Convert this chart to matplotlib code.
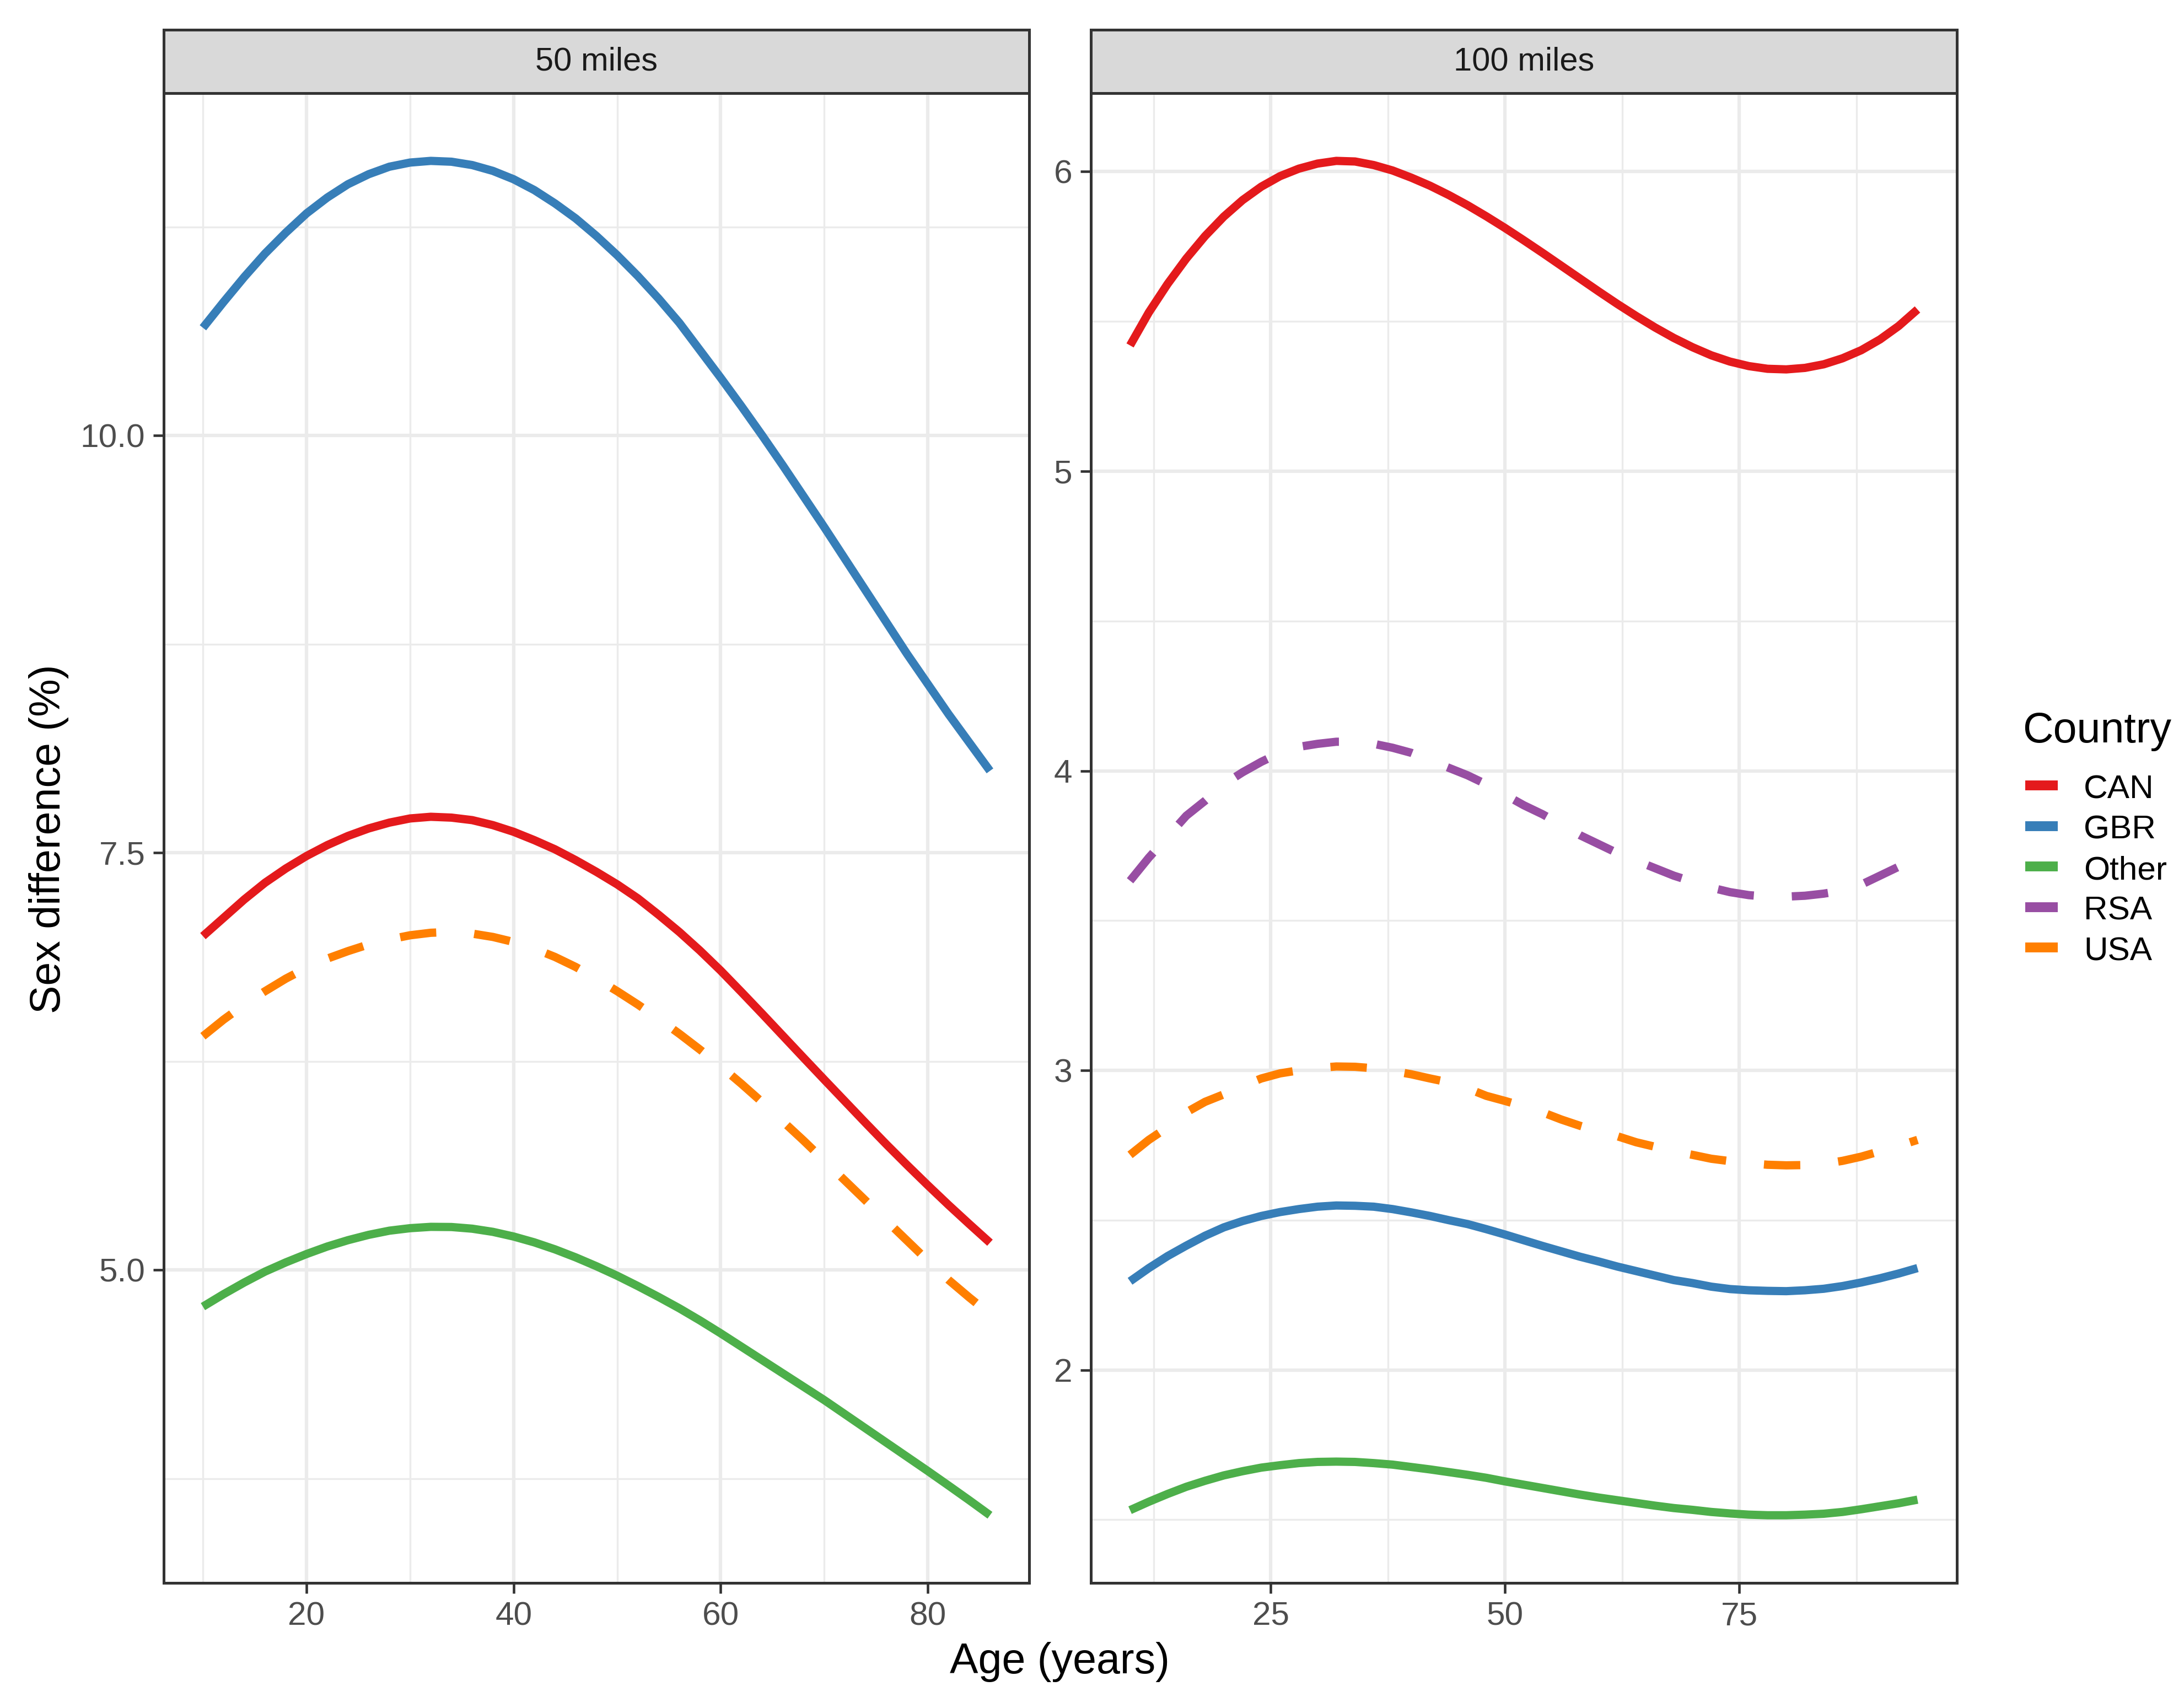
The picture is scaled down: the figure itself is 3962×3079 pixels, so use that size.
import numpy as np
import matplotlib
matplotlib.use('Agg')
import matplotlib.pyplot as plt
from matplotlib.lines import Line2D

plt.rcParams['font.family'] = ['Liberation Sans', 'DejaVu Sans']

# data (every 2 years)
countries = ['CAN', 'GBR', 'Other', 'RSA', 'USA']
colors = {'CAN': '#E41A1C', 'GBR': '#377EB8', 'Other': '#4DAF4A', 'RSA': '#984EA3', 'USA': '#FF7F00'}
dashed = ['RSA', 'USA']

age_50 = list(range(10, 87, 2))
gbr_50 = [10.645, 10.80, 10.95, 11.09, 11.215, 11.33, 11.425, 11.505, 11.565, 11.61,
          11.635, 11.645, 11.64, 11.62, 11.585, 11.535, 11.47, 11.39, 11.30, 11.195,
          11.08, 10.955, 10.82, 10.675, 10.51, 10.345, 10.175, 10.00, 9.82, 9.635,
          9.45, 9.26, 9.07, 8.88, 8.69, 8.51, 8.33, 8.16, 7.99]
can_50 = [7.00, 7.11, 7.22, 7.32, 7.405, 7.48, 7.545, 7.60, 7.645, 7.68,
          7.705, 7.715, 7.71, 7.695, 7.665, 7.625, 7.575, 7.52, 7.455, 7.385,
          7.31, 7.226, 7.128, 7.025, 6.913, 6.793, 6.665, 6.535, 6.403, 6.271,
          6.14, 6.01, 5.88, 5.752, 5.628, 5.507, 5.389, 5.275, 5.163]
usa_50 = [6.40, 6.50, 6.59, 6.67, 6.745, 6.81, 6.865, 6.91, 6.95, 6.98,
          7.005, 7.02, 7.025, 7.015, 6.995, 6.965, 6.925, 6.875, 6.815, 6.745,
          6.67, 6.59, 6.505, 6.415, 6.32, 6.22, 6.115, 6.005, 5.89, 5.775,
          5.655, 5.535, 5.415, 5.295, 5.175, 5.055, 4.94, 4.835, 4.735]
oth_50 = [4.78, 4.855, 4.925, 4.99, 5.045, 5.095, 5.14, 5.178, 5.21, 5.235,
          5.25, 5.258, 5.257, 5.247, 5.228, 5.20, 5.165, 5.123, 5.075, 5.022,
          4.965, 4.903, 4.838, 4.77, 4.697, 4.62, 4.54, 4.46, 4.38, 4.30,
          4.22, 4.135, 4.05, 3.965, 3.88, 3.795, 3.708, 3.62, 3.53]

age_100 = list(range(10, 95, 2))
can_100 = [5.42, 5.53, 5.625, 5.71, 5.785, 5.85, 5.905, 5.95, 5.985, 6.01,
           6.027, 6.036, 6.034, 6.022, 6.004, 5.98, 5.953, 5.922, 5.888, 5.851,
           5.812, 5.771, 5.729, 5.686, 5.643, 5.60, 5.558, 5.518, 5.48, 5.445,
           5.414, 5.387, 5.366, 5.351, 5.342, 5.34, 5.345, 5.357, 5.377, 5.404,
           5.44, 5.485, 5.54]
rsa_100 = [3.633, 3.71, 3.78, 3.85, 3.90, 3.955, 3.995, 4.03, 4.06, 4.08,
           4.09, 4.097, 4.097, 4.09, 4.077, 4.06, 4.035, 4.01, 3.985, 3.955,
           3.92, 3.885, 3.855, 3.82, 3.785, 3.755, 3.725, 3.70, 3.675, 3.65,
           3.63, 3.61, 3.595, 3.585, 3.58, 3.58, 3.583, 3.59, 3.60, 3.62,
           3.65, 3.68, 3.725]
usa_100 = [2.718, 2.768, 2.81, 2.86, 2.895, 2.92, 2.948, 2.973, 2.99, 3.00,
           3.008, 3.013, 3.012, 3.007, 2.998, 2.987, 2.973, 2.96, 2.94, 2.915,
           2.898, 2.88, 2.86, 2.836, 2.815, 2.797, 2.78, 2.76, 2.745, 2.73,
           2.718, 2.705, 2.697, 2.69, 2.685, 2.683, 2.684, 2.688, 2.698, 2.712,
           2.73, 2.748, 2.768]
gbr_100 = [2.296, 2.34, 2.38, 2.415, 2.448, 2.476, 2.497, 2.514, 2.527, 2.537,
           2.545, 2.549, 2.548, 2.545, 2.537, 2.526, 2.514, 2.50, 2.487, 2.47,
           2.452, 2.433, 2.414, 2.396, 2.378, 2.362, 2.345, 2.33, 2.315, 2.30,
           2.29, 2.278, 2.27, 2.266, 2.264, 2.263, 2.266, 2.271, 2.28, 2.292,
           2.306, 2.322, 2.34]
oth_100 = [1.532, 1.56, 1.586, 1.61, 1.63, 1.648, 1.662, 1.674, 1.682, 1.689,
           1.693, 1.694, 1.693, 1.689, 1.684, 1.676, 1.668, 1.659, 1.65, 1.64,
           1.628, 1.617, 1.606, 1.595, 1.584, 1.574, 1.565, 1.556, 1.547, 1.539,
           1.533, 1.526, 1.521, 1.517, 1.515, 1.515, 1.517, 1.52, 1.526, 1.535,
           1.545, 1.555, 1.567]

panels = [
    ('50 miles', age_50, {'CAN': can_50, 'GBR': gbr_50, 'Other': oth_50, 'USA': usa_50},
     [20, 40, 60, 80], [10, 30, 50, 70], [5.0, 7.5, 10.0], [3.75, 6.25, 8.75, 11.25], '%.1f'),
    ('100 miles', age_100, {'CAN': can_100, 'GBR': gbr_100, 'Other': oth_100, 'RSA': rsa_100, 'USA': usa_100},
     [25, 50, 75], [12.5, 37.5, 62.5, 87.5], [2, 3, 4, 5, 6], [1.5, 2.5, 3.5, 4.5, 5.5], '%d'),
]

W, H = 3962, 3079
fig = plt.figure(figsize=(W / 300, H / 300), dpi=300)

grey20 = '#333333'
lw = 3.6
dash = (0, (4.4, 4.6))
bot, top, strip_top = 0.0672, 0.9451, 0.9824
lefts = [(0.0749, 0.4713), (0.4994, 0.8960)]

for (title, ages, series, xmaj, xmin, ymaj, ymin, fmt), (x0, x1) in zip(panels, lefts):
    ax = fig.add_axes([x0, bot, x1 - x0, top - bot])
    allv = np.concatenate([np.asarray(v) for v in series.values()])
    lo, hi = allv.min(), allv.max()
    ax.set_ylim(lo - 0.05 * (hi - lo), hi + 0.05 * (hi - lo))
    ax.set_xlim(ages[0] - 0.05 * (ages[-1] - ages[0]), ages[-1] + 0.05 * (ages[-1] - ages[0]))
    for c in countries:
        if c not in series:
            continue
        ax.plot(ages, series[c], color=colors[c], lw=lw,
                linestyle=dash if c in dashed else '-',
                solid_capstyle='butt', dash_capstyle='butt',
                solid_joinstyle='round', zorder=3)
    ax.set_xticks(xmaj)
    ax.set_xticks(xmin, minor=True)
    ax.set_yticks(ymaj)
    ax.set_yticks(ymin, minor=True)
    ax.set_yticklabels([fmt % v for v in ymaj])
    ax.grid(which='major', color='#EBEBEB', lw=1.5, zorder=0)
    ax.grid(which='minor', color='#EBEBEB', lw=0.8, zorder=0)
    ax.set_axisbelow(True)
    ax.tick_params(which='major', length=4.5, width=1.1, color=grey20,
                   labelsize=14.5, labelcolor='#4D4D4D', pad=3.5)
    ax.tick_params(which='minor', length=0)
    for s in ax.spines.values():
        s.set_color(grey20)
        s.set_linewidth(1.2)
    sax = fig.add_axes([x0, top, x1 - x0, strip_top - top])
    sax.set_facecolor('#D9D9D9')
    sax.set_xticks([])
    sax.set_yticks([])
    for s in sax.spines.values():
        s.set_color(grey20)
        s.set_linewidth(1.2)
    sax.text(0.5, 0.5, title, ha='center', va='center', fontsize=14.3, color='#1A1A1A',
             transform=sax.transAxes)

fig.text(35 / 1568, 1 - 603 / 1220, 'Sex difference (%)', rotation=90, ha='center', va='center',
         fontsize=18.5, color='black')
fig.text(761 / 1568, 1 - 1195 / 1220, 'Age (years)', ha='center', va='center',
         fontsize=18.5, color='black')

# legend
fig.text(1452 / 1568, 1 - 533.6 / 1220, 'Country', ha='left', va='baseline', fontsize=18.5)
key_y = [564.8, 593.9, 623.0, 652.2, 681.3]
for c, y in zip(countries, key_y):
    yf = 1 - y / 1220
    fig.add_artist(Line2D([1454 / 1568, 1477.5 / 1568], [yf, yf], transform=fig.transFigure,
                          color=colors[c], lw=4.3, solid_capstyle='butt'))
    fig.text(1496 / 1568, 1 - (y + 9.0) / 1220, c, ha='left', va='baseline', fontsize=14.5)

fig.savefig('out.png', dpi=300)
